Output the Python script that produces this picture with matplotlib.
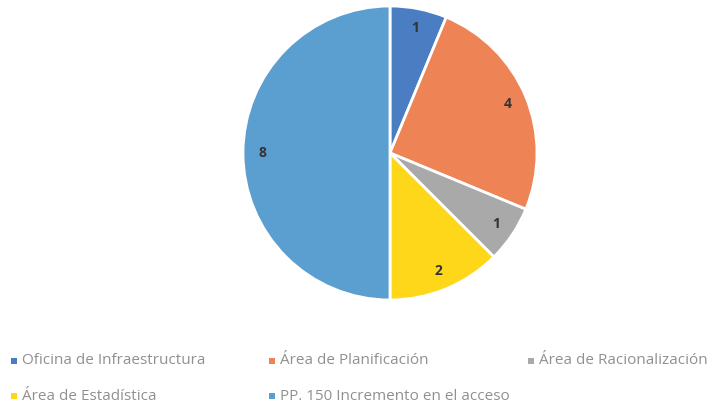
import matplotlib.pyplot as plt
from matplotlib.patches import Rectangle

categories = [
    "Oficina de Infraestructura",
    "Área de Planificación",
    "Área de Racionalización",
    "Área de Estadística",
    "PP. 150 Incremento en el acceso",
]
values = [1, 4, 1, 2, 8]
colors = ["#4A7DC2", "#EE8456", "#A9A9A9", "#FFD71A", "#5A9FD0"]

# legend layout (figure pixels, from top-left): col x, row y
legend_pos = [(14, 361), (272, 361), (531, 361), (14, 396), (272, 396)]

W, H = 712, 409
fig = plt.figure(figsize=(W / 100, H / 100), dpi=100)
plt.rcParams["font.family"] = ["Open Sans", "DejaVu Sans"]

cx, cy, r = 390, 153, 147
ax = fig.add_axes([(cx - r) / W, 1 - (cy + r) / H, 2 * r / W, 2 * r / H])
wedges, texts = ax.pie(
    values, colors=colors, startangle=90, counterclock=False,
    labels=[str(v) for v in values], labeldistance=0.87,
    wedgeprops=dict(edgecolor="white", linewidth=2),
    textprops=dict(fontsize=10, fontweight="bold", color="#333333",
                   ha="center", va="center"),
)
ax.set_xlim(-1.0, 1.0)
ax.set_ylim(-1.0, 1.0)
ax.set_aspect("equal")
ax.axis("off")

for (px, py), label, col in zip(legend_pos, categories, colors):
    fig.patches.append(Rectangle(((px - 3) / W, 1 - (py + 3) / H), 6 / W, 6 / H,
                                 transform=fig.transFigure, facecolor=col,
                                 edgecolor="none"))
    fig.text((px + 8) / W, 1 - py / H, label, fontsize=11, color="#909090",
             ha="left", va="center")

fig.savefig("out.png", dpi=100, facecolor="white")
